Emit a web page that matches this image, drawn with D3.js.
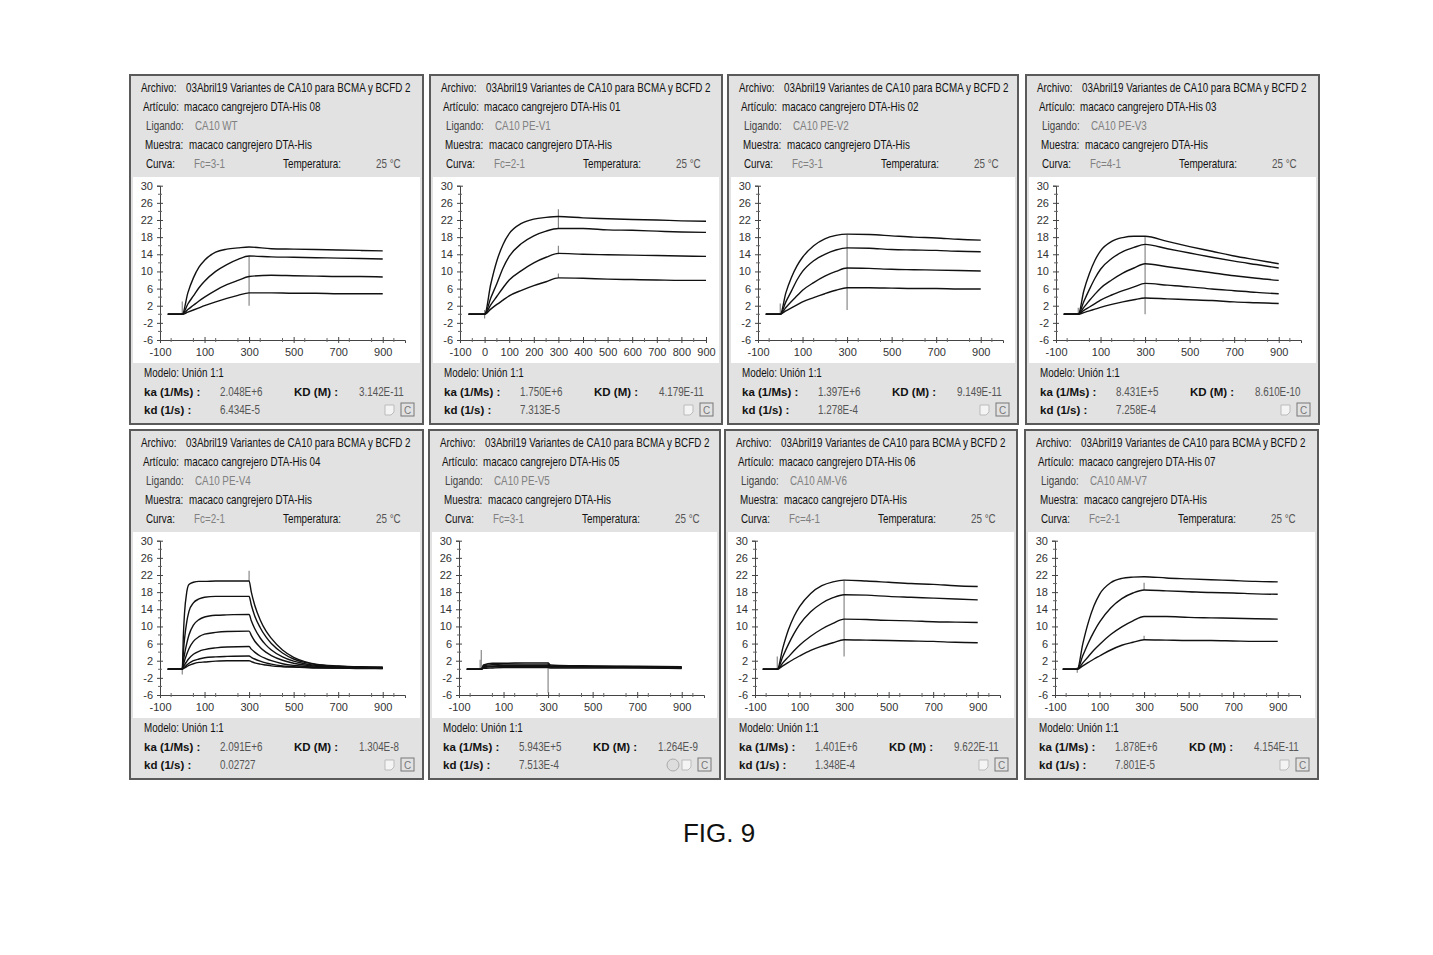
<!DOCTYPE html>
<html><head><meta charset="utf-8">
<script src="https://cdn.jsdelivr.net/npm/d3@7"></script>
<style>
body{margin:0;background:#fff;}
svg text{font-family:"Liberation Sans",Arial,sans-serif;}
</style></head><body>
<svg id="c" width="1433" height="955"></svg>
<script>
// ---------------- DATA ----------------
const archivo = "03Abril19 Variantes de CA10 para BCMA y BCFD 2";
const muestra = "macaco cangrejero DTA-His";
const articles = ["macaco cangrejero DTA-His 08","macaco cangrejero DTA-His 01","macaco cangrejero DTA-His 02","macaco cangrejero DTA-His 03",
                  "macaco cangrejero DTA-His 04","macaco cangrejero DTA-His 05","macaco cangrejero DTA-His 06","macaco cangrejero DTA-His 07"];
const ligands = ["CA10 WT","CA10 PE-V1","CA10 PE-V2","CA10 PE-V3","CA10 PE-V4","CA10 PE-V5","CA10 AM-V6","CA10 AM-V7"];
const fcLabels = ["Fc=3-1","Fc=2-1","Fc=3-1","Fc=4-1","Fc=2-1","Fc=3-1","Fc=4-1","Fc=2-1"];
const kaValues = ["2.048E+6","1.750E+6","1.397E+6","8.431E+5","2.091E+6","5.943E+5","1.401E+6","1.878E+6"];
const KDValues = ["3.142E-11","4.179E-11","9.149E-11","8.610E-10","1.304E-8","1.264E-9","9.622E-11","4.154E-11"];
const kdValues = ["6.434E-5","7.313E-5","1.278E-4","7.258E-4","0.02727","7.513E-4","1.348E-4","7.801E-5"];
const yTicks = [-6,-2,2,6,10,14,18,22,26,30];
const xTicksStd = [-100,100,300,500,700,900];
const xTicksP2 = [-100,0,100,200,300,400,500,600,700,800,900];

const T_STD  = [-65,0,25,50,75,100,150,200,250,300,400,500,600,700,800,900];
const T_FAST = [-65,0,5,10,20,30,50,75,100,150,200,300,310,325,350,375,400,450,500,550,600,700,800,900];
const T_FLAT = [-65,0,10,50,100,200,300,310,350,500,700,900];

const p1Curves = [
  [0,0,5.0,8.5,11.0,12.6,14.5,15.2,15.5,15.7,15.3,15.2,15.1,15.0,14.9,14.8],
  [0,0,2.4,4.3,6.2,7.7,10.0,11.6,12.8,13.6,13.4,13.3,13.2,13.1,13.0,12.9],
  [0,0,1.1,2.1,3.1,4.0,5.6,6.9,7.9,8.8,9.1,9.0,8.9,8.8,8.8,8.7],
  [0,0,0.5,1.0,1.5,2.0,2.9,3.7,4.4,5.0,5.0,4.9,4.9,4.8,4.8,4.8]];
const p2Curves = [
  [0,0,7.0,12.5,16.3,18.8,21.2,22.2,22.6,22.8,22.5,22.3,22.1,22.0,21.8,21.7],
  [0,0,3.8,7.2,10.8,13.5,16.5,18.3,19.4,20.0,20.0,19.7,19.6,19.4,19.2,19.1],
  [0,0,2.2,4.2,6.2,8.0,10.2,12.0,13.3,14.2,14.0,13.9,13.8,13.7,13.6,13.5],
  [0,0,1.2,2.3,3.3,4.3,5.6,6.7,7.6,8.5,8.4,8.2,8.1,8.0,7.9,7.9]];
const p3Curves = [
  [0,0,5.0,8.6,11.3,13.3,16.0,17.6,18.4,18.7,18.6,18.3,18.0,17.8,17.5,17.3],
  [0,0,2.9,5.4,8.0,10.0,12.5,14.0,15.0,15.5,15.4,15.1,15.0,14.9,14.7,14.6],
  [0,0,1.6,3.0,4.3,5.6,7.4,8.9,10.0,10.8,10.7,10.5,10.4,10.3,10.2,10.1],
  [0,0,0.8,1.5,2.2,2.9,3.9,4.8,5.6,6.2,6.2,6.1,6.0,6.0,5.9,5.9]];
const p4Curves = [
  [0,0,5.5,9.5,12.6,14.8,17.0,17.9,18.2,18.2,17.0,15.8,14.7,13.6,12.7,11.8],
  [0,0,3.0,5.8,8.4,10.5,13.0,14.6,15.6,16.3,15.3,14.3,13.3,12.4,11.6,10.8],
  [0,0,1.6,3.2,4.7,6.1,8.0,9.6,10.8,11.8,11.1,10.4,9.7,9.0,8.4,7.9],
  [0,0,0.9,1.7,2.5,3.3,4.5,5.5,6.4,7.2,6.8,6.4,5.9,5.5,5.1,4.8],
  [0,0,0.4,0.8,1.2,1.6,2.3,2.9,3.4,3.8,3.6,3.4,3.2,2.9,2.7,2.5]];
const p5Curves = [
  [0,0,8,13,18,19.8,20.3,20.5,20.5,20.6,20.6,20.6,18.0,15.0,11.5,9.0,7.2,4.5,2.8,1.8,1.2,0.8,0.6,0.5],
  [0,0,4,7,11,13.5,15.5,16.4,16.8,17.0,17.0,17.0,15.0,12.5,9.7,7.6,6.0,3.8,2.4,1.6,1.1,0.7,0.5,0.4],
  [0,0,2,3.5,6,8,10.3,11.6,12.2,12.6,12.7,12.8,11.3,9.5,7.3,5.7,4.5,2.9,1.9,1.3,0.9,0.6,0.5,0.4],
  [0,0,1,2,3.5,4.8,6.5,7.6,8.2,8.6,8.8,8.9,7.9,6.6,5.1,4.0,3.2,2.1,1.4,1.0,0.7,0.5,0.4,0.3],
  [0,0,0.5,1.0,1.8,2.5,3.5,4.2,4.6,5.0,5.2,5.3,4.7,4.0,3.1,2.5,2.0,1.3,0.9,0.7,0.5,0.4,0.3,0.3],
  [0,0,0.3,0.5,1.0,1.4,2.0,2.4,2.7,2.9,3.0,3.1,2.8,2.4,1.9,1.5,1.2,0.8,0.6,0.5,0.4,0.3,0.3,0.2],
  [0,0,0.2,0.3,0.6,0.9,1.3,1.6,1.7,1.9,2.0,2.0,1.8,1.5,1.2,1.0,0.8,0.6,0.5,0.4,0.3,0.3,0.2,0.2]];
const p6Curves = [
  [0,0,1.0,1.4,1.4,1.5,1.5,1.0,0.9,0.8,0.7,0.6],
  [0,0,0.8,1.1,1.2,1.2,1.2,0.8,0.7,0.7,0.6,0.5],
  [0,0,0.6,0.8,0.9,0.9,0.9,0.6,0.6,0.6,0.5,0.4],
  [0,0,0.4,0.6,0.6,0.7,0.7,0.5,0.5,0.5,0.4,0.3],
  [0,0,0.2,0.3,0.4,0.4,0.4,0.3,0.3,0.3,0.3,0.2]];
const p7Curves = [
  [0,0,5.0,9.2,12.3,14.6,17.7,19.5,20.4,20.8,20.6,20.3,20.0,19.8,19.5,19.3],
  [0,0,3.0,5.8,8.3,10.4,13.4,15.4,16.7,17.4,17.3,17.0,16.8,16.6,16.4,16.2],
  [0,0,1.5,2.9,4.3,5.6,7.7,9.4,10.7,11.7,11.6,11.4,11.3,11.1,11.0,10.9],
  [0,0,0.8,1.6,2.4,3.1,4.4,5.4,6.2,6.9,6.8,6.7,6.6,6.5,6.3,6.2]];
const p8Curves = [
  [0,0,6.0,11.0,14.8,17.5,20.2,21.2,21.5,21.6,21.3,21.1,20.9,20.7,20.5,20.4],
  [0,0,3.2,6.2,8.8,11.0,14.3,16.5,17.8,18.5,18.3,18.1,17.9,17.8,17.6,17.5],
  [0,0,1.5,3.0,4.5,5.8,8.1,9.9,11.3,12.3,12.3,12.1,12.0,11.9,11.8,11.7],
  [0,0,0.8,1.6,2.4,3.1,4.5,5.6,6.3,6.9,6.8,6.7,6.7,6.6,6.5,6.5]];

// injection artefacts: [time, yFrom, yTo]
const p1Spikes = [[0,0,3],[300,2,13.6]];
const p2Spikes = [[0,-1,1],[300,20,24.5],[300,14,16],[300,8.5,9.5]];
const p3Spikes = [[0,0,2.5],[300,1,18.7]];
const p4Spikes = [[0,0,1.5],[300,0,18.2]];
const p5Spikes = [[0,-1.2,0.5],[300,20.6,23]];
const p6Spikes = [[-5,0,2.2],[0,0,4.5],[300,-5.5,1.5]];
const p7Spikes = [[0,0,3],[300,3,20.8]];
const p8Spikes = [[0,-0.8,0.5],[300,18.5,20.2],[300,6.9,7.8]];

// ---------------- LAYOUT ----------------
const panelX = [130,430,728,1026,130,429,725,1025];
const panelW = [293,292,290,293,293,291,292,293];
const rowY = [75,430];
const PH = 349;
const NARROW = 0.82;

const panels = [
  {t:T_STD, c:p1Curves, s:p1Spikes, xmax:1000, xt:xTicksStd},
  {t:T_STD, c:p2Curves, s:p2Spikes, xmax:900,  xt:xTicksP2},
  {t:T_STD, c:p3Curves, s:p3Spikes, xmax:1000, xt:xTicksStd},
  {t:T_STD, c:p4Curves, s:p4Spikes, xmax:1000, xt:xTicksStd},
  {t:T_FAST,c:p5Curves, s:p5Spikes, xmax:1000, xt:xTicksStd},
  {t:T_FLAT,c:p6Curves, s:p6Spikes, xmax:1000, xt:xTicksStd},
  {t:T_STD, c:p7Curves, s:p7Spikes, xmax:1000, xt:xTicksStd},
  {t:T_STD, c:p8Curves, s:p8Spikes, xmax:1000, xt:xTicksStd}
];

const svg = d3.select("#c");

panels.forEach((p,i)=>{
  const px = panelX[i], py = rowY[Math.floor(i/4)], pw = panelW[i];
  const g = svg.append("g").attr("transform",`translate(${px},${py})`);
  g.append("rect").attr("x",0).attr("y",0).attr("width",pw).attr("height",PH)
    .attr("fill","#e2e2e2").attr("stroke","#5a5a5a").attr("stroke-width",2);
  g.append("rect").attr("x",3).attr("y",102).attr("width",pw-6).attr("height",186).attr("fill","#fff");

  const txt = (x,y,s,opts={})=>{
    const f = opts.squeeze===undefined ? NARROW : opts.squeeze;
    return g.append("text").attr("transform",`translate(${x},${y}) scale(${f},1)`).attr("dy","0.35em")
      .attr("font-size",opts.size||12).attr("fill",opts.fill||"#111")
      .attr("font-weight",opts.bold?"bold":"normal").attr("text-anchor",opts.anchor||"start").text(s);
  };

  // header
  txt(11,13,"Archivo:"); txt(56,13,archivo);
  txt(13,32,"Artículo:"); txt(54,32,articles[i]);
  txt(16,51,"Ligando:",{fill:"#444"}); txt(65,51,ligands[i],{fill:"#808080"});
  txt(15,70,"Muestra:"); txt(59,70,muestra);
  txt(16,89,"Curva:"); txt(64,89,fcLabels[i],{fill:"#808080"});
  txt(153,89,"Temperatura:"); txt(246,89,"25 °C",{fill:"#555"});

  // footer
  txt(14,298,"Modelo: Unión 1:1");
  txt(14,317,"ka (1/Ms) :",{bold:true,squeeze:1,size:11.5});
  txt(90,317,kaValues[i],{fill:"#555"});
  txt(164,317,"KD (M) :",{bold:true,squeeze:1,size:11.5});
  txt(229,317,KDValues[i],{fill:"#555"});
  txt(14,335,"kd (1/s) :",{bold:true,squeeze:1,size:11.5});
  txt(90,335,kdValues[i],{fill:"#555"});
  // icons
  g.append("rect").attr("x",pw-22).attr("y",328).attr("width",13).attr("height",13)
    .attr("fill","none").attr("stroke","#777").attr("stroke-width",1);
  txt(pw-15.5,335,"C",{size:10,anchor:"middle",fill:"#777",squeeze:1});
  g.append("path").attr("d",`M${pw-38},330 h9 v7 l-3,3 h-6 z`).attr("fill","#f4f4f4").attr("stroke","#bbb");
  if(i===5){
    g.append("circle").attr("cx",pw-47).attr("cy",335).attr("r",6).attr("fill","#ddd").attr("stroke","#aaa");
  }

  // scales
  const x0 = 30, xlen = p.xmax===1000 ? 245 : 246;
  const x = d3.scaleLinear().domain([-100,p.xmax]).range([x0,x0+xlen]);
  const y = d3.scaleLinear().domain([-6,30]).range([265,110.7]);

  const fmt = d=>String(d);
  const ya = g.append("g").attr("transform",`translate(${x0},0)`)
    .call(d3.axisLeft(y).tickValues(yTicks).tickSize(3).tickPadding(4).tickFormat(fmt));
  const xa = g.append("g").attr("transform",`translate(0,265)`)
    .call(d3.axisBottom(x).tickValues(p.xt).tickSize(3).tickPadding(5).tickFormat(fmt));
  [ya,xa].forEach(a=>{
    a.select(".domain").attr("stroke","#444");
    a.selectAll(".tick line").attr("stroke","#444");
    a.selectAll("text").attr("font-size",11).attr("fill","#333")
      .attr("font-family","'Liberation Sans',Arial,sans-serif");
  });
  ya.selectAll(".tick").append("line").attr("x1",0).attr("x2",3).attr("stroke","#444");
  xa.selectAll(".tick").append("line").attr("y1",0).attr("y2",-3).attr("stroke","#444");
  const yMinor = d3.range(-4,30,4);
  g.append("g").selectAll("line").data(yMinor).join("line")
    .attr("x1",x0-2).attr("x2",x0+2).attr("y1",d=>y(d)).attr("y2",d=>y(d)).attr("stroke","#666");
  const xMinor = d3.range(-50,p.xmax,p.xmax===1000?100:50).filter(v=>!p.xt.includes(v));
  g.append("g").selectAll("line").data(xMinor).join("line")
    .attr("x1",d=>x(d)).attr("x2",d=>x(d)).attr("y1",263).attr("y2",267).attr("stroke","#666");

  g.append("g").selectAll("line").data(p.s).join("line")
    .attr("x1",d=>x(d[0])).attr("x2",d=>x(d[0])).attr("y1",d=>y(d[1])).attr("y2",d=>y(d[2]))
    .attr("stroke","#888").attr("stroke-width",1.2);

  const line = d3.line().x((d,k)=>x(p.t[k])).y(d=>y(d)).curve(d3.curveMonotoneX);
  g.append("g").selectAll("path").data(p.c).join("path")
    .attr("d",line).attr("fill","none").attr("stroke","#111").attr("stroke-width",1.4);
});

svg.append("text").attr("x",719).attr("y",833).attr("dy","0.35em").attr("text-anchor","middle")
  .attr("font-size",26).attr("fill","#111").text("FIG. 9");
</script>
</body></html>
